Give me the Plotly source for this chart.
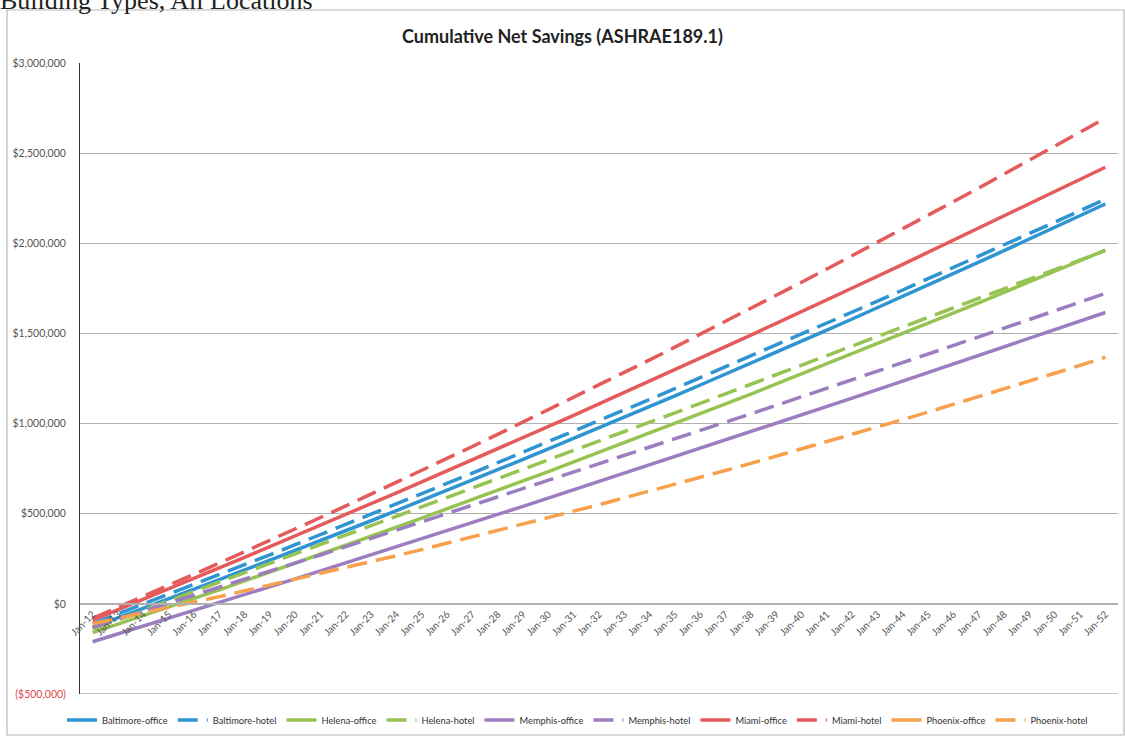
import plotly.graph_objects as go

years = [f"Jan-{y}" for y in range(12, 53)]

# values in thousands of dollars
baltimore_office = [-130, -78, -26, 27, 80, 134, 188, 242, 296, 351, 406, 461, 517, 573, 630, 687, 744, 801, 859, 917,
                    976, 1035, 1094, 1154, 1214, 1274, 1334, 1395, 1456, 1518, 1580, 1642, 1705, 1768, 1831, 1895,
                    1959, 2023, 2088, 2153, 2218]
baltimore_hotel = [-110, -56, -2, 52, 107, 162, 217, 272, 328, 384, 440, 497, 553, 610, 668, 725, 783, 841, 899, 957,
                   1016, 1075, 1134, 1194, 1254, 1314, 1374, 1435, 1495, 1556, 1618, 1679, 1741, 1803, 1865, 1928,
                   1991, 2054, 2117, 2181, 2245]
helena_office = [-160, -113, -66, -18, 30, 78, 127, 176, 225, 275, 324, 375, 425, 476, 527, 578, 630, 682, 734, 787,
                 840, 893, 946, 1000, 1054, 1109, 1163, 1219, 1274, 1330, 1386, 1442, 1499, 1555, 1613, 1670, 1728,
                 1786, 1845, 1903, 1962]
helena_hotel = [-140, -88, -37, 15, 67, 119, 171, 223, 275, 327, 379, 431, 483, 535, 588, 640, 692, 745, 797, 850,
                902, 955, 1007, 1060, 1112, 1165, 1218, 1270, 1323, 1376, 1429, 1482, 1535, 1588, 1641, 1694, 1747,
                1800, 1853, 1907, 1960]
memphis_office = [-210, -167, -124, -80, -37, 7, 51, 95, 139, 183, 227, 272, 316, 361, 406, 451, 496, 541, 587, 632,
                  678, 723, 769, 815, 861, 908, 954, 1000, 1047, 1094, 1141, 1188, 1235, 1282, 1329, 1377, 1425,
                  1472, 1520, 1568, 1616]
memphis_hotel = [-130, -86, -42, 3, 47, 92, 137, 181, 226, 271, 317, 362, 407, 453, 498, 544, 590, 636, 682, 728,
                 774, 820, 867, 913, 960, 1007, 1054, 1101, 1148, 1195, 1243, 1290, 1338, 1385, 1433, 1481, 1529,
                 1577, 1625, 1674, 1722]
miami_office = [-90, -33, 25, 83, 141, 199, 258, 317, 376, 435, 495, 555, 616, 676, 737, 799, 860, 922, 984, 1046,
                1109, 1172, 1235, 1299, 1362, 1427, 1491, 1556, 1620, 1686, 1751, 1817, 1883, 1950, 2016, 2083,
                2150, 2218, 2286, 2354, 2422]
miami_hotel = [-80, -20, 41, 102, 164, 226, 288, 351, 415, 479, 543, 608, 674, 740, 806, 873, 940, 1008, 1076, 1145,
               1214, 1283, 1353, 1424, 1495, 1566, 1638, 1711, 1784, 1857, 1931, 2005, 2080, 2155, 2231, 2307, 2383,
               2460, 2538, 2616, 2694]
phoenix_office = [None] * 41  # not visible in the chart, legend only
phoenix_hotel = [-110, -81, -51, -21, 10, 40, 72, 103, 135, 168, 201, 234, 267, 301, 336, 371, 406, 441, 477, 514,
                 550, 588, 625, 663, 701, 740, 779, 819, 858, 899, 939, 980, 1022, 1064, 1106, 1149, 1192, 1235,
                 1279, 1323, 1368]

series = [
    ("Baltimore-office", baltimore_office, "#2f94d2", "solid"),
    ("Baltimore-hotel", baltimore_hotel, "#2f94d2", "dash"),
    ("Helena-office", helena_office, "#97c353", "solid"),
    ("Helena-hotel", helena_hotel, "#97c353", "dash"),
    ("Memphis-office", memphis_office, "#9b7dc0", "solid"),
    ("Memphis-hotel", memphis_hotel, "#9b7dc0", "dash"),
    ("Miami-office", miami_office, "#e55b5b", "solid"),
    ("Miami-hotel", miami_hotel, "#e55b5b", "dash"),
    ("Phoenix-office", phoenix_office, "#f8a04b", "solid"),
    ("Phoenix-hotel", phoenix_hotel, "#f8a04b", "dash"),
]

ytick_vals = [-500000, 0, 500000, 1000000, 1500000, 2000000, 2500000, 3000000]
ytick_text = ['<span style="color:#e0474c">($500,000)</span>', "$0", "$500,000", "$1,000,000",
              "$1,500,000", "$2,000,000", "$2,500,000", "$3,000,000"]

fig = go.Figure()
for name, vals, color, dash in series:
    y = [v * 1000 if v is not None else None for v in vals]
    fig.add_trace(go.Scatter(
        x=years, y=y, name=name, mode="lines",
        line=dict(color=color, width=3.5, dash="solid" if dash == "solid" else "20px,9px"),
    ))

W, H = 1125, 736
L, R, T, B = 80, 7, 63, 42
pw, ph = W - L - R, H - T - B

def px_x(px):
    return (px - L) / pw

def px_y(py):
    return (H - B - py) / ph

fig.update_layout(
    width=W, height=H,
    margin=dict(l=L, r=R, t=T, b=B, autoexpand=False),
    paper_bgcolor="white", plot_bgcolor="white",
    font=dict(family="Lato, Open Sans, sans-serif", color="#555555", size=10),
    title=dict(text="<b>Cumulative Net Savings (ASHRAE189.1)</b>", x=0.5, xanchor="center",
               y=1 - 37 / H, yanchor="middle",
               font=dict(family="Lato, Open Sans, sans-serif", size=18, color="#222222")),
    showlegend=True,
    legend=dict(orientation="h", x=px_x(62), xanchor="left", y=px_y(720), yanchor="middle",
                font=dict(size=9.3, color="#333333"), itemwidth=30, tracegroupgap=0,
                bgcolor="rgba(0,0,0,0)"),
    xaxis=dict(type="category", range=[-0.5, 40.5], showgrid=False,
               anchor="free", position=(0 + 500000) / 3500000,
               showline=True, linecolor="#b0b0b0", linewidth=1.5,
               ticks="", tickangle=-45, tickfont=dict(size=10, color="#555555"),
               automargin=False, zeroline=False),
    yaxis=dict(range=[-500000, 3000000], tickvals=ytick_vals, ticktext=ytick_text,
               showgrid=True, gridcolor="#b0b0b0", gridwidth=1,
               showline=True, linecolor="#333333", linewidth=1,
               ticks="", ticklabelstandoff=11, tickfont=dict(size=10.5, color="#555555"),
               zeroline=False, automargin=False),
)

# outer chart frame
fig.add_shape(type="rect", xref="paper", yref="paper",
              x0=px_x(7), x1=px_x(1124), y0=px_y(735), y1=px_y(10),
              line=dict(color="#b8b8b8", width=1.2), fillcolor="rgba(0,0,0,0)", layer="below")
# bottom border line at -500k
fig.add_shape(type="line", xref="paper", yref="y", x0=0, x1=1, y0=-500000, y1=-500000,
              line=dict(color="#b0b0b0", width=1.5), layer="below")

# heading of the page, cut off at the top
fig.add_annotation(text="Building Types, All Locations", xref="paper", yref="paper",
                   x=px_x(-2), xanchor="left", y=px_y(17), yanchor="bottom", showarrow=False,
                   font=dict(family="Liberation Serif, serif", size=26, color="#222222"))

fig.write_html("out.html", config={"displayModeBar": False},
               post_script="document.body.style.margin='0';document.body.style.overflow='hidden';")
